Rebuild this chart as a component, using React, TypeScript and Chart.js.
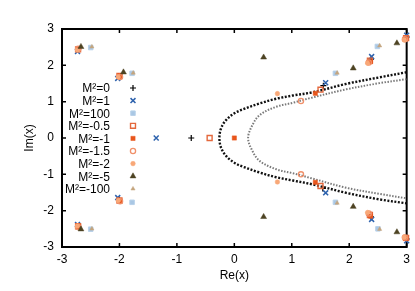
import { useEffect, useRef } from 'react';
import { Chart, registerables } from 'chart.js';
import { drawPoint } from 'chart.js/helpers';

Chart.register(...registerables);

const FONT = "'Liberation Sans', Arial, Helvetica, sans-serif";

const xTickValues = [-3, -2, -1, 0, 1, 2, 3];
const yTickValues = [-3, -2, -1, 0, 1, 2, 3];

const legendLabels = ['M²=0', 'M²=1', 'M²=100', 'M²=-0.5', 'M²=-1', 'M²=-1.5', 'M²=-2', 'M²=-5', 'M²=-100'];

// dotted curves
const blackCurveRe = [3.0, 2.53, 1.95, 1.37, 1.02, 0.73, 0.44, 0.15, 0.0, -0.14, -0.23, -0.26, -0.23, -0.14, 0.0, 0.15, 0.44, 0.73, 1.02, 1.37, 1.95, 2.53, 3.0];
const blackCurveIm = [1.81, 1.67, 1.49, 1.26, 1.17, 1.08, 0.95, 0.79, 0.68, 0.5, 0.27, 0, -0.27, -0.5, -0.68, -0.79, -0.95, -1.08, -1.17, -1.28, -1.51, -1.69, -1.8];
const greyCurveRe = [3.0, 2.53, 1.95, 1.3, 1.02, 0.73, 0.44, 0.3, 0.24, 0.3, 0.44, 0.73, 1.02, 1.3, 1.95, 2.53, 3.0];
const greyCurveIm = [1.62, 1.51, 1.34, 1.09, 0.97, 0.86, 0.63, 0.31, 0, -0.31, -0.63, -0.86, -0.97, -1.09, -1.37, -1.54, -1.66];

// roots for each M^2
const m0Re = [-0.75, 1.55, 1.54, -2.72, -2.72, -2.0, -2.0, 2.38, 2.38, 3.0, 3.0];
const m0Im = [0, 1.44, -1.39, 2.44, -2.44, 1.7, -1.7, 2.17, -2.17, 2.78, -2.78];
const m1Re = [-1.36, -2.73, -2.73, -2.03, -2.03, 1.59, 1.59, 2.39, 2.39, 3.0, 3.0];
const m1Im = [0, 2.38, -2.38, 1.64, -1.64, 1.52, -1.51, 2.24, -2.24, 2.83, -2.83];
const m100Re = [-2.5, -2.5, -1.78, -1.78, 1.76, 1.76, 2.49, 2.5];
const m100Im = [2.49, -2.51, 1.78, -1.77, 1.78, -1.77, 2.52, -2.5];
const mm05Re = [-0.43, 1.5, 1.5, -2.72, -2.72, -2.0, -2.0, 2.36, 2.36, 2.99, 2.99];
const mm05Im = [0, 1.33, -1.32, 2.44, -2.43, 1.71, -1.72, 2.13, -2.12, 2.75, -2.75];
const mm1Re = [0.0, 1.41, 1.41, -2.71, -2.71, -1.99, -1.99, 2.37, 2.37, 2.98, 2.98];
const mm1Im = [0, 1.23, -1.22, 2.47, -2.43, 1.71, -1.73, 2.1, -2.15, 2.73, -2.77];
const mm15Re = [1.16, 1.16, -2.72, -2.72, -1.99, -1.99, 2.34, 2.34, 2.97, 2.97];
const mm15Im = [1.02, -1.0, 2.45, -2.45, 1.68, -1.74, 2.08, -2.08, 2.72, -2.74];
const mm2Re = [0.75, 0.75, 2.32, 2.32, -2.73, -2.73, -2.02, -2.02, 2.96, 2.96];
const mm2Im = [1.22, -1.21, 2.06, -2.05, 2.42, -2.42, 1.68, -1.72, 2.7, -2.73];
const mm5Re = [0.51, 0.51, 2.07, 2.07, 2.83, 2.83, -2.67, -2.67, -1.93];
const mm5Im = [2.22, -2.17, 1.92, -1.89, 2.61, -2.59, 2.51, -2.51, 1.81];
const mm100Re = [-2.48, -2.48, -1.76, 1.79, 1.79, 2.53, 2.53];
const mm100Im = [2.51, -2.5, 1.79, 1.79, -1.79, 2.54, -2.51];

const zip = (re: number[], im: number[]) => re.map((x, i) => ({ x, y: im[i] }));

type Style = { pointStyle: string; radius: number; bg: string; border: string; bw: number };
const styles: Style[] = [
  { pointStyle: 'cross', radius: 3, bg: '#000', border: '#000', bw: 1.2 },
  { pointStyle: 'crossRot', radius: 3.5, bg: '#2d62ad', border: '#2d62ad', bw: 1.5 },
  { pointStyle: 'rect', radius: 3.2, bg: '#a9c7e4', border: '#b9d2ea', bw: 1 },
  { pointStyle: 'rect', radius: 3.5, bg: 'rgba(255,255,255,0)', border: '#e4683c', bw: 1.4 },
  { pointStyle: 'rect', radius: 3, bg: '#e8561c', border: '#e8561c', bw: 0.5 },
  { pointStyle: 'circle', radius: 2.6, bg: 'rgba(255,255,255,0)', border: '#f0906a', bw: 1.3 },
  { pointStyle: 'circle', radius: 2.3, bg: '#f8a878', border: '#f8a878', bw: 0.5 },
  { pointStyle: 'triangle', radius: 3.4, bg: '#4d4322', border: '#4d4322', bw: 0.5 },
  { pointStyle: 'triangle', radius: 2.4, bg: '#c4a57e', border: '#c4a57e', bw: 0.5 },
];

const series = [
  zip(m0Re, m0Im), zip(m1Re, m1Im), zip(m100Re, m100Im), zip(mm05Re, mm05Im), zip(mm1Re, mm1Im),
  zip(mm15Re, mm15Im), zip(mm2Re, mm2Im), zip(mm5Re, mm5Im), zip(mm100Re, mm100Im),
];

const framePlugin = {
  id: 'frame',
  beforeDatasetsDraw(chart: any) {
    const { ctx, chartArea: a, scales } = chart;
    ctx.save();
    ctx.strokeStyle = '#000';
    ctx.lineWidth = 2;
    ctx.strokeRect(a.left, a.top, a.right - a.left, a.bottom - a.top);
    ctx.lineWidth = 1.5;
    const tl = 4;
    ctx.beginPath();
    xTickValues.forEach((v) => {
      const px = scales.x.getPixelForValue(v);
      ctx.moveTo(px, a.bottom); ctx.lineTo(px, a.bottom - tl);
      ctx.moveTo(px, a.top); ctx.lineTo(px, a.top + tl);
    });
    yTickValues.forEach((v) => {
      const py = scales.y.getPixelForValue(v);
      ctx.moveTo(a.left, py); ctx.lineTo(a.left + tl, py);
      ctx.moveTo(a.right, py); ctx.lineTo(a.right - tl, py);
    });
    ctx.stroke();
    ctx.restore();
  },
};

const legendPlugin = {
  id: 'insideLegend',
  afterDraw(chart: any) {
    const { ctx, chartArea: a } = chart;
    ctx.save();
    ctx.font = `12px ${FONT}`;
    ctx.fillStyle = '#000';
    ctx.textAlign = 'right';
    ctx.textBaseline = 'middle';
    legendLabels.forEach((label, i) => {
      const y = a.top + 59 + i * 12.6;
      ctx.fillStyle = '#000';
      ctx.fillText(label, a.left + 48, y + 1);
      const s = styles[i];
      ctx.fillStyle = s.bg;
      ctx.strokeStyle = s.border;
      ctx.lineWidth = s.bw;
      drawPoint(ctx, { pointStyle: s.pointStyle as any, radius: s.radius, rotation: 0, borderWidth: s.bw }, a.left + 71, y);
    });
    ctx.restore();
  },
};

export default function App() {
  const ref = useRef<HTMLCanvasElement>(null);
  useEffect(() => {
    document.body.style.margin = '0';
    const canvas = ref.current!;
    const datasets: any[] = [
      {
        data: zip(blackCurveRe, blackCurveIm), showLine: true, pointRadius: 0, borderColor: '#111',
        borderWidth: 2.4, borderDash: [2, 1.6], tension: 0.35, fill: false, order: 100,
      },
      {
        data: zip(greyCurveRe, greyCurveIm), showLine: true, pointRadius: 0, borderColor: '#7a7a7a',
        borderWidth: 2, borderDash: [1.5, 1.5], tension: 0.35, fill: false, order: 99,
      },
      ...series.map((d, i) => ({
        data: d,
        showLine: false,
        pointStyle: styles[i].pointStyle,
        pointRadius: styles[i].radius,
        pointBackgroundColor: styles[i].bg,
        pointBorderColor: styles[i].border,
        pointBorderWidth: styles[i].bw,
        clip: false,
        order: 50 - i,
      })),
    ];
    const chart = new Chart(canvas, {
      type: 'scatter',
      data: { datasets },
      options: {
        animation: false,
        responsive: false,
        events: [],
        layout: { padding: { left: 0, right: 8, top: 29, bottom: 0 } },
        plugins: { legend: { display: false }, tooltip: { enabled: false } },
        scales: {
          x: {
            type: 'linear', min: -3, max: 3,
            ticks: { stepSize: 1, color: '#000', font: { family: FONT, size: 12 }, padding: 5 },
            grid: { display: false, drawTicks: false },
            border: { display: false },
            title: { display: true, text: 'Re(x)', color: '#000', font: { family: FONT, size: 12 }, padding: { top: 0, bottom: 8 } },
            afterFit: (s: any) => { s.height = 44; },
          },
          y: {
            type: 'linear', min: -3, max: 3,
            ticks: { stepSize: 1, color: '#000', font: { family: FONT, size: 12 }, padding: 8 },
            grid: { display: false, drawTicks: false },
            border: { display: false },
            title: { display: true, text: 'Im(x)', color: '#000', font: { family: FONT, size: 12 }, padding: { top: 22, bottom: 0 } },
            afterFit: (s: any) => { s.width = 62; },
          },
        },
      } as any,
      plugins: [framePlugin, legendPlugin],
    });
    return () => chart.destroy();
  }, []);
  return (
    <div style={{ width: 415, height: 291 }}>
      <canvas ref={ref} width={415} height={291} />
    </div>
  );
}
